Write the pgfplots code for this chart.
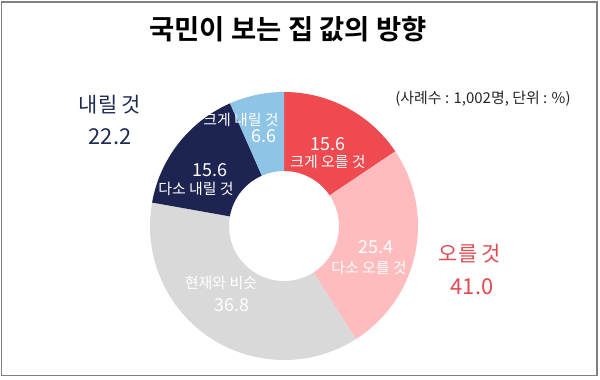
\documentclass[border=0pt]{standalone}
\usepackage{pgfplots}
\usepackage{pgfplotstable}
\pgfplotsset{compat=1.18}
\usepackage{fontspec}
\setmainfont{Noto Sans CJK KR}[BoldFont={Noto Sans CJK KR Bold}]

\definecolor{cRed}{HTML}{EE4A4F}
\definecolor{cPink}{HTML}{FFBCBE}
\definecolor{cGray}{HTML}{D9D9D9}
\definecolor{cNavy}{HTML}{1E2452}
\definecolor{cBlue}{HTML}{8EC4E6}
\definecolor{cNavyText}{HTML}{1F2A55}
\definecolor{cRedText}{HTML}{E04A50}
\definecolor{cFrame}{HTML}{808080}

% share of answers (%), clockwise from 12 o'clock
\pgfplotstableread{
idx value
0 15.6
1 25.4
2 36.8
3 15.6
4 6.6
}\datatable

\pgfplotstablegetelem{0}{value}\of\datatable\let\vA\pgfplotsretval
\pgfplotstablegetelem{1}{value}\of\datatable\let\vB\pgfplotsretval
\pgfplotstablegetelem{2}{value}\of\datatable\let\vC\pgfplotsretval
\pgfplotstablegetelem{3}{value}\of\datatable\let\vD\pgfplotsretval
\pgfplotstablegetelem{4}{value}\of\datatable\let\vE\pgfplotsretval
\pgfmathsetmacro\aA{90}
\pgfmathsetmacro\aB{\aA-3.6*\vA}
\pgfmathsetmacro\aC{\aB-3.6*\vB}
\pgfmathsetmacro\aD{\aC-3.6*\vC}
\pgfmathsetmacro\aE{\aD-3.6*\vD}
\pgfmathsetmacro\aF{\aE-3.6*\vE}

\newcommand\sector[3]{%
  \fill[#3] (axis cs:284,153) ++(#1:134bp) arc[start angle=#1, end angle=#2, radius=134bp]
    -- ++(#2:-79bp) arc[start angle=#2, end angle=#1, radius=55bp] -- cycle;}

\begin{document}
\begin{tikzpicture}
\begin{axis}[width=600bp, height=379bp, scale only axis,
  xmin=0, xmax=600, ymin=0, ymax=379, hide axis, clip=false]
\path (axis cs:0,0) rectangle (axis cs:600,379);
\draw[cFrame, line width=1.5bp] (axis cs:1.5,377) rectangle (axis cs:597,3.5);

\sector{\aA}{\aB}{cRed}
\sector{\aB}{\aC}{cPink}
\sector{\aC}{\aD}{cGray}
\sector{\aD}{\aE}{cNavy}
\sector{\aE}{\aF}{cBlue}

\begin{scope}[every node/.style={inner sep=0.5bp}]
\node[font=\fontsize{27.5}{30}\selectfont\bfseries] at (axis cs:288,350) {국민이 보는 집 값의 방향};
\node[font=\fontsize{15}{17}\selectfont, text=black!85] at (axis cs:483,280) {(사례수 : 1,002명, 단위 : \%)};

\node[font=\fontsize{21}{24}\selectfont, text=cNavyText] at (axis cs:110,274) {내릴 것};
\node[font=\fontsize{22}{24}\selectfont, text=cNavyText] at (axis cs:110,242) {22.2};
\node[font=\fontsize{21}{24}\selectfont, text=cRedText] at (axis cs:470,125) {오를 것};
\node[font=\fontsize{22}{24}\selectfont, text=cRedText] at (axis cs:472,92) {41.0};

\node[font=\fontsize{18}{20}\selectfont, text=white] at (axis cs:328,235) {15.6};
\node[font=\fontsize{15}{17}\selectfont, text=white] at (axis cs:328,217) {크게 오를 것};
\node[font=\fontsize{18}{20}\selectfont, text=white] at (axis cs:376,132) {25.4};
\node[font=\fontsize{15}{17}\selectfont, text=white] at (axis cs:369,111) {다소 오를 것};
\node[font=\fontsize{15}{17}\selectfont, text=white] at (axis cs:221,96) {현재와 비슷};
\node[font=\fontsize{18}{20}\selectfont, text=white] at (axis cs:232,74) {36.8};
\node[font=\fontsize{18}{20}\selectfont, text=white] at (axis cs:210,209) {15.6};
\node[font=\fontsize{15}{17}\selectfont, text=white] at (axis cs:196,190) {다소 내릴 것};
\node[font=\fontsize{15}{17}\selectfont, text=white] at (axis cs:241,259) {크게 내릴 것};
\node[font=\fontsize{18}{20}\selectfont, text=white] at (axis cs:264,243) {6.6};
\end{scope}
\end{axis}
\end{tikzpicture}
\end{document}
